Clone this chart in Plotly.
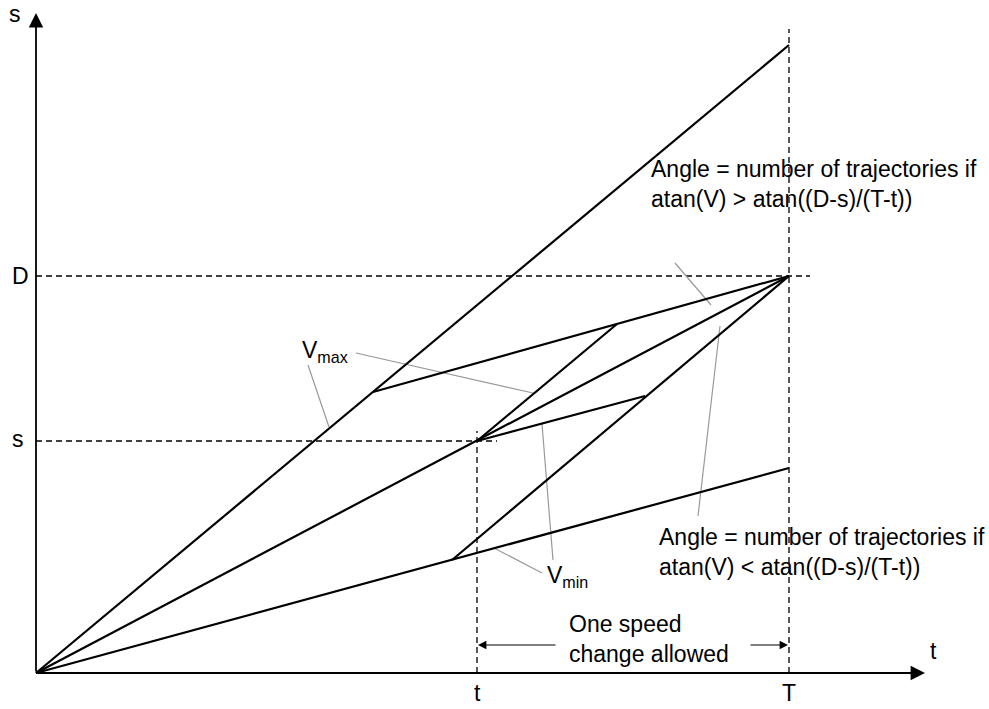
import plotly.graph_objects as go

# ---- diagram values (t along horizontal, s along vertical) ----
T_END = 753          # time T
T_NOW = 441          # time t
D_VAL = 397          # distance D
S_NOW = 232          # distance s
VMAX_AT_T = 628      # s reached at T with Vmax
VMIN_AT_T = 205      # s reached at T with Vmin
X_AXIS_END = 889
Y_AXIS_END = 660

# trajectory segments: (t0, s0, t1, s1)
seg_names = ["vmax", "mid", "vmin", "upper_switch", "p_vmax", "p_vmin", "lower_switch"]
seg_t0 = [0, 0, 0, 337, T_NOW, T_NOW, 416]
seg_s0 = [0, 0, 0, 281, S_NOW, S_NOW, 113]
seg_t1 = [T_END, T_END, T_END, T_END, 581, 609, T_END]
seg_s1 = [VMAX_AT_T, D_VAL, VMIN_AT_T, D_VAL, 349, 277, D_VAL]

# dashed guide lines
guide_t0 = [T_END, T_NOW, 0, 0]
guide_s0 = [0, 0, D_VAL, S_NOW]
guide_t1 = [T_END, T_NOW, 774, 461]
guide_s1 = [644, 242, D_VAL, S_NOW]

# grey leader lines
lead_t0 = [272, 320, 458, 517, 639, 662]
lead_s0 = [308, 320, 125, 113, 410, 157]
lead_t1 = [293, 497, 506, 506, 675, 684]
lead_s1 = [246, 280, 100, 249, 368, 347]

FONT = "Arial, Liberation Sans, sans-serif"

fig = go.Figure()

for a, b, c, d in zip(guide_t0, guide_s0, guide_t1, guide_s1):
    fig.add_trace(go.Scatter(x=[a, c], y=[b, d], mode="lines",
                             line=dict(color="black", width=1.3, dash="6px,4px"),
                             hoverinfo="skip", showlegend=False))

for a, b, c, d in zip(lead_t0, lead_s0, lead_t1, lead_s1):
    fig.add_trace(go.Scatter(x=[a, c], y=[b, d], mode="lines",
                             line=dict(color="#999999", width=1.2),
                             hoverinfo="skip", showlegend=False))

for a, b, c, d in zip(seg_t0, seg_s0, seg_t1, seg_s1):
    fig.add_trace(go.Scatter(x=[a, c], y=[b, d], mode="lines",
                             line=dict(color="black", width=2.2),
                             hoverinfo="skip", showlegend=False))

ann = []
# axes with arrowheads
ann.append(dict(x=X_AXIS_END, y=0, ax=0, ay=0, xref="x", yref="y", axref="x", ayref="y",
                showarrow=True, arrowhead=2, arrowsize=1.6, arrowwidth=1.8, arrowcolor="black",
                text="", standoff=0))
ann.append(dict(x=0, y=Y_AXIS_END, ax=0, ay=0, xref="x", yref="y", axref="x", ayref="y",
                showarrow=True, arrowhead=2, arrowsize=1.6, arrowwidth=1.8, arrowcolor="black",
                text="", standoff=0))
# "one speed change allowed" arrows
ann.append(dict(x=442, y=28, ax=521, ay=28, xref="x", yref="y", axref="x", ayref="y",
                showarrow=True, arrowhead=2, arrowsize=1.4, arrowwidth=1.2, arrowcolor="black",
                text="", standoff=0))
ann.append(dict(x=752, y=28, ax=713, ay=28, xref="x", yref="y", axref="x", ayref="y",
                showarrow=True, arrowhead=2, arrowsize=1.4, arrowwidth=1.2, arrowcolor="black",
                text="", standoff=0))

def label(x, y, text, xanchor="center", align="center", size=23):
    ann.append(dict(x=x, y=y, xref="x", yref="y", text=text, showarrow=False,
                    xanchor=xanchor, yanchor="middle", align=align,
                    font=dict(family=FONT, size=size, color="black")))

label(-21, 659, "s")
label(897, 22, "t")
label(-16, D_VAL, "D")
label(-18, S_NOW + 2, "s")
label(T_NOW, -20, "t")
label(T_END, -20, "T")
label(289, 322, "V<sub>max</sub>")
label(531, 97, "V<sub>min</sub>")
label(531, 34, "One speed<br>change allowed", xanchor="left", align="left")
label(613, 489, "Angle = number of trajectories if<br>atan(V) &gt; atan((D-s)/(T-t))", xanchor="left", align="left")
label(621, 121, "Angle = number of trajectories if<br>atan(V) &lt; atan((D-s)/(T-t))", xanchor="left", align="left")

fig.update_layout(
    width=989, height=709,
    margin=dict(l=0, r=0, t=0, b=0),
    plot_bgcolor="white", paper_bgcolor="white",
    xaxis=dict(range=[-36, 953], visible=False, fixedrange=True),
    yaxis=dict(range=[-36, 673], visible=False, fixedrange=True),
    annotations=ann,
    showlegend=False,
)

fig.write_html("out.html", config={"displayModeBar": False},
               post_script="document.body.style.margin='0px';")
